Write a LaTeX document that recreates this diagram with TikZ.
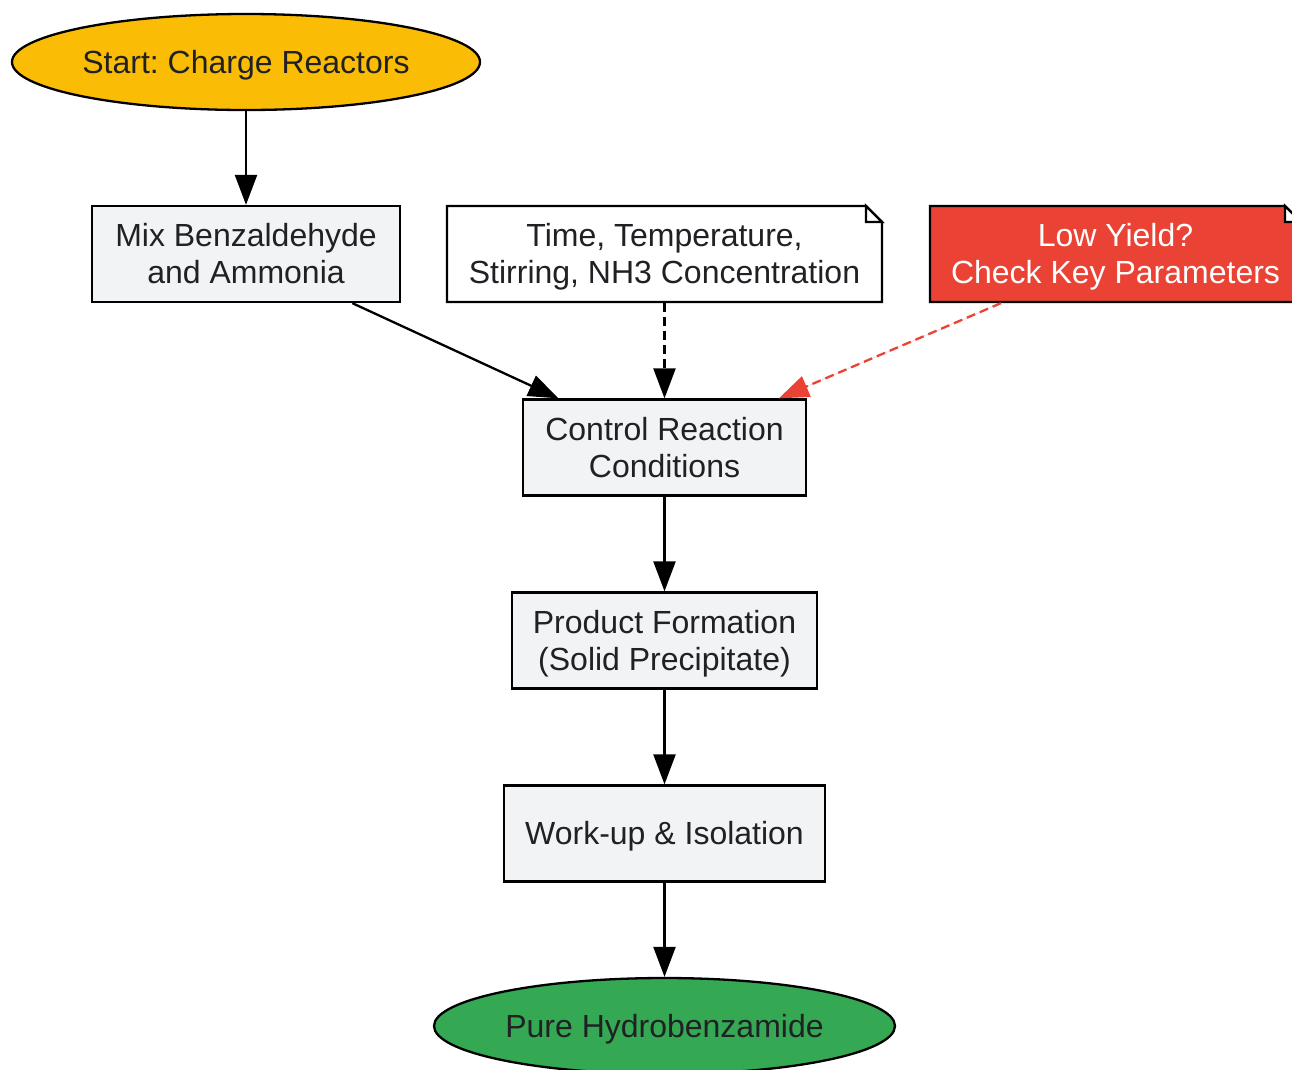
\documentclass[tikz,border=0pt]{standalone}
\usepackage{fontspec}
\setmainfont{Liberation Sans}
\usetikzlibrary{arrows.meta,shapes.geometric}
\definecolor{cyellow}{HTML}{FBBC05}
\definecolor{cred}{HTML}{EA4335}
\definecolor{cgreen}{HTML}{34A853}
\definecolor{cgray}{HTML}{F1F3F4}
\definecolor{ctext}{HTML}{202124}
\frenchspacing
\newcommand\ls{\rule[-7.5pt]{0pt}{37pt}}
\tikzset{
  base/.style={font=\fontsize{32}{37}\selectfont\frenchspacing, text=ctext, align=center, inner sep=0pt, line width=2.3pt},
  oval/.style={base, ellipse, draw=black, minimum width=#1, minimum height=96pt},
  procbox/.style={base, rectangle, draw=black, fill=cgray, minimum height=96pt},
  notebox/.style={base, rectangle, draw=none, minimum width=#1, minimum height=96pt},
  arr/.style={line width=2.3pt, -{Triangle[length=30pt,width=22pt]}},
  dsh/.style={dash pattern=on 9pt off 5pt},
}
\begin{document}
\begin{tikzpicture}[x=1pt,y=-1pt]
\useasboundingbox (0,0) rectangle (1292,1069);
\node[oval=468pt, fill=cyellow] (start) at (246,62) {\ls Start: Charge Reactors};
\node[procbox, minimum width=308pt] (mix) at (246,254) {\ls Mix Benzaldehyde\\\ls and Ammonia};
% note outlines (drawn first, text nodes on top)
\coordinate (timeNE) at (882,206);
\coordinate (timeSW) at (447,302);
\coordinate (lowNE) at (1301,206);
\coordinate (lowSW) at (930,302);
\foreach \n/\f in {time/white, low/cred}{
  \draw[line width=2.3pt, fill=\f, line join=miter]
    (\n SW) |- ([xshift=-16pt]\n NE) -- ([yshift=-16pt]\n NE) |- (\n SW) -- cycle;
  \draw[line width=2.3pt, fill=white, line join=miter]
    ([xshift=-16pt]\n NE) -- ([xshift=-16pt,yshift=-16pt]\n NE) -- ([yshift=-16pt]\n NE) -- cycle;
}
\node[notebox=435pt] (time) at (664.5,254) {\ls Time, Temperature,\\\ls Stirring, NH3 Concentration};
\node[notebox=371pt, text=white] (low) at (1115.5,254) {\ls Low Yield?\\\ls Check Key Parameters};
\node[procbox, minimum width=283pt] (ctrl) at (664.5,447.5) {\ls Control Reaction\\\ls Conditions};
\node[procbox, minimum width=305pt] (prod) at (664.5,640.5) {\ls Product Formation\\\ls (Solid Precipitate)};
\node[procbox, minimum width=321pt] (work) at (664.5,833.5) {\ls Work-up \& Isolation};
\node[oval=461pt, fill=cgreen] (pure) at (664.5,1026) {\ls Pure Hydrobenzamide};
% connectors
\draw[arr] (start) -- (mix);
\draw[arr] (mix) -- (ctrl);
\draw[arr, dsh] (time) -- (ctrl);
\draw[arr, dsh, draw=cred, fill=cred] (low) -- (ctrl);
\draw[arr] (ctrl) -- (prod);
\draw[arr] (prod) -- (work);
\draw[arr] (work) -- (pure);
\end{tikzpicture}
\end{document}
